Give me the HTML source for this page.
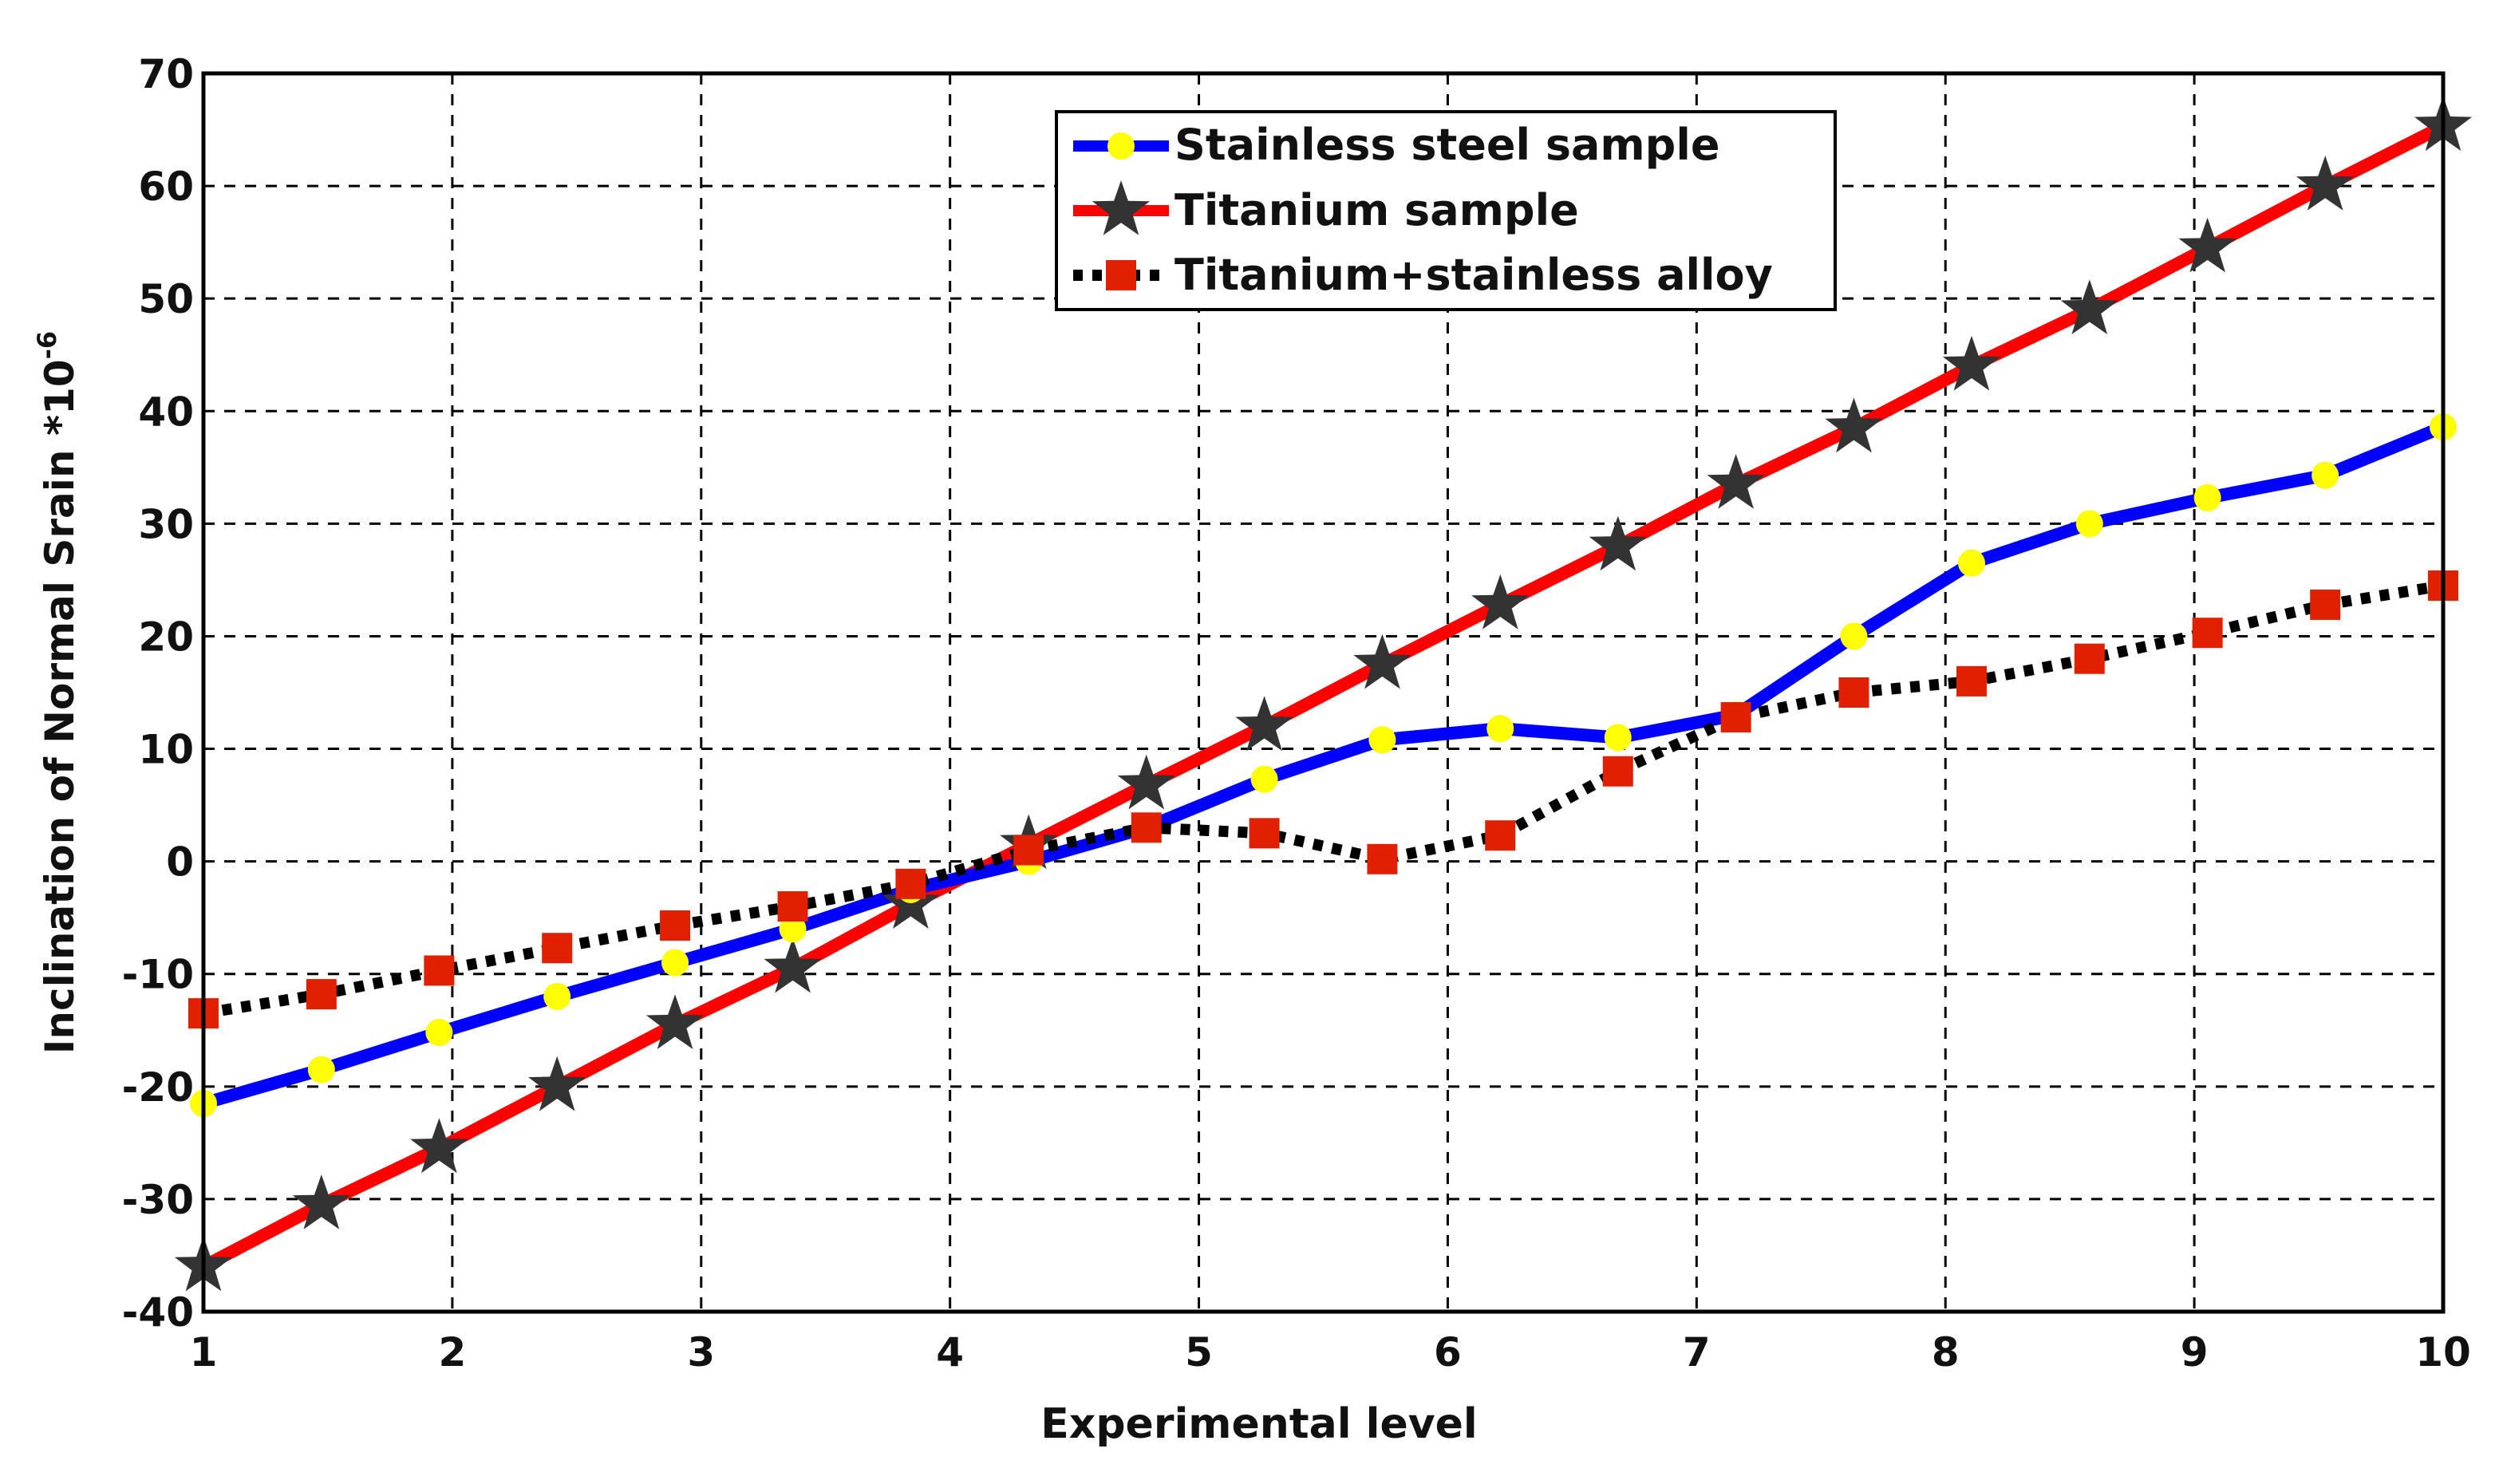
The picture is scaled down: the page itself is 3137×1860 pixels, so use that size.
<!DOCTYPE html>
<html><head><meta charset="utf-8"><style>
html,body{margin:0;padding:0;background:#fff}
svg text{font-family:"DejaVu Sans","Liberation Sans",sans-serif;font-weight:bold;fill:#111}
</style></head><body>
<svg id="chart" width="3137" height="1855" xmlns="http://www.w3.org/2000/svg">
<g id="grid"></g>
<g id="series"></g>
<rect x="255" y="92" width="2807" height="1552" fill="none" stroke="#000" stroke-width="5"/>
<g id="ticks"></g>
<text x="1578" y="1802" font-size="52" text-anchor="middle">Experimental level</text>
<text transform="translate(92,868) rotate(-90)" font-size="50" text-anchor="middle">Inclination of Normal Srain *10<tspan dy="-22" font-size="32">-6</tspan></text>
<g>
<rect x="1324" y="140" width="976" height="248" fill="#fff" stroke="#000" stroke-width="4"/>
<g>
<line x1="1345" y1="183" x2="1465" y2="183" stroke="#00f" stroke-width="14"/>
<circle cx="1405" cy="183" r="17" fill="#ff0"/>
<text x="1472" y="200" font-size="54">Stainless steel sample</text></g>
<g>
<line x1="1345" y1="264" x2="1465" y2="264" stroke="#f00" stroke-width="14"/>
<polygon id="legstar" fill="#333"/>
<text x="1472" y="282" font-size="54">Titanium sample</text></g>
<g>
<line x1="1345" y1="345" x2="1465" y2="345" stroke="#000" stroke-width="14" stroke-dasharray="12,12"/>
<rect x="1386" y="326" width="38" height="38" fill="#e02000"/>
<text x="1472" y="363" font-size="54">Titanium+stainless alloy</text></g>
</g>
</svg>
<script>
const xTicks=[1,2,3,4,5,6,7,8,9,10];
const yTicks=[-40,-30,-20,-10,0,10,20,30,40,50,60,70];
const xLevels=[1,1.474,1.947,2.421,2.895,3.368,3.842,4.316,4.789,5.263,5.737,6.211,6.684,7.158,7.632,8.105,8.579,9.053,9.526,10];
const stainless=[-21.5,-18.5,-15.2,-12,-9,-6,-2.5,0,3,7.3,10.8,11.8,11,13,20,26.5,30,32.3,34.3,38.6];
const titanium=[-36,-30.5,-25.5,-20,-14.5,-9.5,-3.8,1.5,6.8,12,17.5,22.8,28,33.5,38.5,44,49,54.5,60,65.3];
const alloy=[-13.5,-11.8,-9.7,-7.7,-5.7,-4,-2,1,3,2.5,0.2,2.3,8,12.8,15,16,18,20.3,22.8,24.5];
const L=255,R=3062,T=92,B=1644;
const sx=v=>L+(v-1)/9*(R-L);
const sy=v=>B-(v+40)/110*(B-T);
const NS="http://www.w3.org/2000/svg";
function mk(tag,attrs,parent){const e=document.createElementNS(NS,tag);for(const k in attrs)e.setAttribute(k,attrs[k]);parent.appendChild(e);return e;}
const grid=document.getElementById('grid'),ticks=document.getElementById('ticks'),ser=document.getElementById('series');
xTicks.forEach(v=>{
  const x=sx(v);
  if(v>1&&v<10){const g=mk('line',{x1:x,y1:T,x2:x,y2:B,stroke:'#000','stroke-width':3,'stroke-dasharray':'14,12'},grid);
  
  }
  const t=mk('text',{x:x,y:B+68,'font-size':50,'text-anchor':'middle'},ticks);t.textContent=v;
  
  
});
yTicks.forEach(v=>{
  const y=sy(v);
  if(v>-40&&v<70){const g=mk('line',{x1:L,y1:y,x2:R,y2:y,stroke:'#000','stroke-width':3,'stroke-dasharray':'14,12'},grid);
  
  }
  const t=mk('text',{x:L-12,y:y+18,'font-size':50,'text-anchor':'end'},ticks);t.textContent=v;
  
  
});
function pts(arr){return arr.map((v,i)=>sx(xLevels[i])+','+sy(v)).join(' ');}
function star(cx,cy,r){let p=[];for(let i=0;i<10;i++){const a=-Math.PI/2+i*Math.PI/5;const rr=i%2?r*0.4:r;p.push((cx+rr*Math.cos(a)).toFixed(1)+','+(cy+rr*Math.sin(a)).toFixed(1));}return p.join(' ');}
let l=mk('polyline',{points:pts(titanium),fill:'none',stroke:'#f00','stroke-width':16,'stroke-linejoin':'round'},ser);


l=mk('polyline',{points:pts(stainless),fill:'none',stroke:'#00f','stroke-width':16,'stroke-linejoin':'round'},ser);


l=mk('polyline',{points:pts(alloy),fill:'none',stroke:'#000','stroke-width':14,'stroke-dasharray':'12,12'},ser);


titanium.forEach((v,i)=>{const s=mk('polygon',{points:star(sx(xLevels[i]),sy(v),38),fill:'#333'},ser);

});
stainless.forEach((v,i)=>{const c=mk('circle',{cx:sx(xLevels[i]),cy:sy(v),r:17,fill:'#ff0'},ser);

});
alloy.forEach((v,i)=>{const r=mk('rect',{x:sx(xLevels[i])-19,y:sy(v)-19,width:38,height:38,fill:'#e02000'},ser);

});
document.getElementById('legstar').setAttribute('points',star(1405,264,38));
</script>
</body></html>
